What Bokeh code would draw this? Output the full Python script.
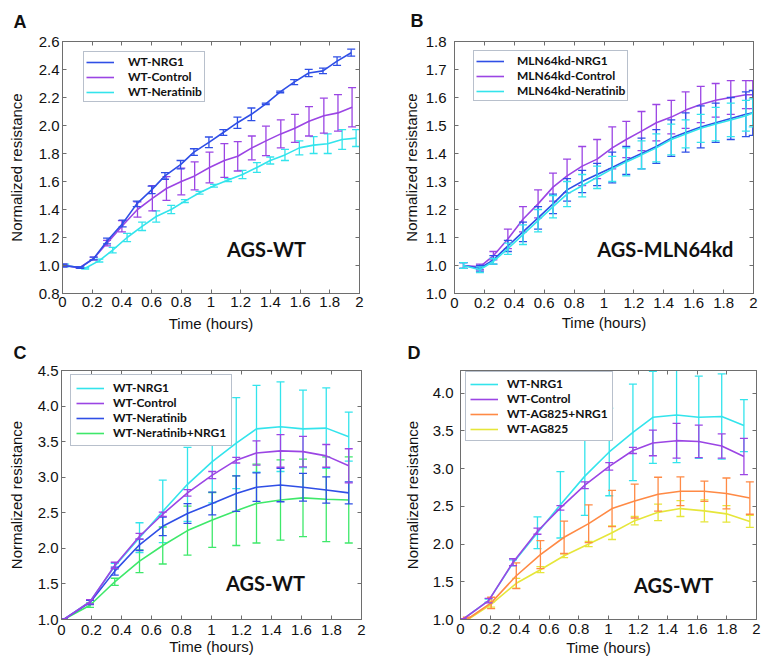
from bokeh.plotting import figure
from bokeh.models import (FixedTicker, LinearAxis, Legend, LegendItem, Label,
                          CustomJSTickFormatter)
from bokeh.layouts import column, row
from bokeh.embed import file_html
from bokeh.resources import INLINE

# ---------------- data ----------------
x_ticks = [0, 0.2, 0.4, 0.6, 0.8, 1.0, 1.2, 1.4, 1.6, 1.8, 2.0]
x_tick_labels = ["0", "0.2", "0.4", "0.6", "0.8", "1", "1.2", "1.4", "1.6", "1.8", "2"]

# Panel A (AGS-WT)
A_y_ticks = [0.8, 1.0, 1.2, 1.4, 1.6, 1.8, 2.0, 2.2, 2.4, 2.6]
A_y_labels = ["0.8", "1.0", "1.2", "1.4", "1.6", "1.8", "2.0", "2.2", "2.4", "2.6"]
tA_nrg1 = [0.007, 0.12, 0.21, 0.30, 0.405, 0.50, 0.60, 0.69, 0.795, 0.885, 0.986,
           1.083, 1.178, 1.272, 1.369, 1.466, 1.56, 1.658, 1.754, 1.849, 1.944]
A_nrg1 = [1.00, 0.985, 1.05, 1.175, 1.30, 1.44, 1.54, 1.64, 1.72, 1.81, 1.88,
          1.95, 2.02, 2.08, 2.155, 2.24, 2.31, 2.375, 2.39, 2.46, 2.52]
A_nrg1_err = [0.01, 0.005, 0.01, 0.02, 0.024, 0.02, 0.027, 0.024, 0.03, 0.024, 0.038,
              0.02, 0.04, 0.045, 0.005, 0.006, 0.018, 0.026, 0.02, 0.03, 0.025]
tA_ctrl = [0.007, 0.115, 0.21, 0.30, 0.40, 0.505, 0.605, 0.70, 0.80, 0.89, 0.99,
           1.09, 1.18, 1.275, 1.37, 1.47, 1.565, 1.66, 1.76, 1.855, 1.95]
A_ctrl = [1.00, 0.985, 1.05, 1.16, 1.28, 1.40, 1.48, 1.55, 1.60, 1.64, 1.70,
          1.75, 1.78, 1.84, 1.89, 1.94, 1.98, 2.03, 2.07, 2.09, 2.13]
A_ctrl_err = [0.01, 0.005, 0.01, 0.02, 0.04, 0.055, 0.09, 0.085, 0.095, 0.10, 0.11,
              0.12, 0.105, 0.085, 0.105, 0.10, 0.10, 0.105, 0.125, 0.13, 0.14]
tA_ner = [0.018, 0.153, 0.248, 0.338, 0.435, 0.536, 0.631, 0.732, 0.824, 0.923, 1.02,
          1.115, 1.212, 1.309, 1.399, 1.498, 1.595, 1.691, 1.786, 1.883, 1.977]
A_ner = [1.00, 0.98, 1.035, 1.11, 1.20, 1.28, 1.35, 1.40, 1.46, 1.52, 1.57,
         1.61, 1.65, 1.70, 1.75, 1.79, 1.84, 1.86, 1.87, 1.90, 1.91]
A_ner_err = [0.01, 0.005, 0.01, 0.02, 0.03, 0.03, 0.04, 0.03, 0.01, 0.01, 0.01,
             0.01, 0.03, 0.035, 0.025, 0.04, 0.05, 0.06, 0.07, 0.07, 0.06]

# Panel B (AGS-MLN64kd)
B_y_ticks = [0.9, 1.0, 1.1, 1.2, 1.3, 1.4, 1.5, 1.6, 1.7, 1.8]
B_y_labels = ["1.0", "1.0", "1.1", "1.2", "1.3", "1.4", "1.5", "1.6", "1.7", "1.8"]
tB = [0.06, 0.17, 0.26, 0.357, 0.458, 0.559, 0.659, 0.753, 0.854, 0.954, 1.055,
      1.149, 1.251, 1.35, 1.45, 1.546, 1.647, 1.747, 1.848, 1.949, 1.995]
B_nrg1 = [1.00, 0.99, 1.02, 1.07, 1.12, 1.17, 1.22, 1.27, 1.30, 1.325, 1.35,
          1.375, 1.40, 1.425, 1.455, 1.475, 1.495, 1.51, 1.525, 1.54, 1.545]
B_nrg1_err = [0.01, 0.01, 0.015, 0.02, 0.035, 0.04, 0.035, 0.04, 0.04, 0.04, 0.055,
              0.05, 0.055, 0.06, 0.065, 0.07, 0.075, 0.07, 0.075, 0.08, 0.08]
B_ctrl = [1.00, 0.995, 1.035, 1.095, 1.165, 1.22, 1.28, 1.32, 1.355, 1.38, 1.42,
          1.45, 1.48, 1.51, 1.53, 1.555, 1.575, 1.59, 1.60, 1.61, 1.61]
B_ctrl_err = [0.01, 0.01, 0.015, 0.035, 0.045, 0.05, 0.05, 0.06, 0.07, 0.07, 0.075,
              0.065, 0.07, 0.065, 0.06, 0.065, 0.065, 0.06, 0.06, 0.05, 0.05]
B_ner = [1.00, 0.985, 1.015, 1.06, 1.11, 1.16, 1.21, 1.255, 1.285, 1.315, 1.345,
         1.37, 1.395, 1.42, 1.45, 1.47, 1.49, 1.505, 1.52, 1.535, 1.545]
B_ner_err = [0.01, 0.01, 0.01, 0.02, 0.035, 0.04, 0.04, 0.045, 0.04, 0.04, 0.045,
             0.05, 0.05, 0.05, 0.055, 0.05, 0.05, 0.06, 0.06, 0.055, 0.05]

# Panel C (AGS-WT, 4 conditions)
C_y_ticks = [1.0, 1.5, 2.0, 2.5, 3.0, 3.5, 4.0, 4.5]
C_y_labels = ["1.0", "1.5", "2.0", "2.5", "3.0", "3.5", "4.0", "4.5"]
tC = [0.015, 0.19, 0.355, 0.52, 0.675, 0.84, 1.005, 1.165, 1.30, 1.46, 1.61, 1.765, 1.915]
C_nrg1 = [1.00, 1.25, 1.75, 2.15, 2.52, 2.90, 3.22, 3.48, 3.68, 3.71, 3.68, 3.69, 3.57]
C_nrg1_err = [0.01, 0.02, 0.04, 0.21, 0.44, 0.52, 0.58, 0.64, 0.61, 0.63, 0.545, 0.565, 0.345]
C_ctrl = [1.00, 1.25, 1.76, 2.17, 2.48, 2.78, 3.03, 3.24, 3.34, 3.37, 3.36, 3.30, 3.16]
C_ctrl_err = [0.01, 0.03, 0.045, 0.04, 0.03, 0.045, 0.05, 0.04, 0.17, 0.23, 0.215, 0.16, 0.24]
C_ner = [1.00, 1.24, 1.68, 2.05, 2.31, 2.49, 2.63, 2.77, 2.86, 2.89, 2.86, 2.82, 2.78]
C_ner_err = [0.01, 0.03, 0.055, 0.08, 0.13, 0.14, 0.16, 0.25, 0.20, 0.235, 0.195, 0.185, 0.155]
C_nn = [1.00, 1.20, 1.53, 1.82, 2.04, 2.25, 2.40, 2.53, 2.63, 2.68, 2.71, 2.69, 2.68]
C_nn_err = [0.01, 0.03, 0.05, 0.16, 0.26, 0.345, 0.385, 0.49, 0.555, 0.565, 0.545, 0.595, 0.605]

# Panel D (AGS-WT, AG825)
D_y_ticks = [1.0, 1.5, 2.0, 2.5, 3.0, 3.5, 4.0]
D_y_labels = ["1.0", "1.5", "2.0", "2.5", "3.0", "3.5", "4.0"]
tD = [0.043, 0.207, 0.377, 0.54, 0.70, 0.866, 1.024, 1.177, 1.335, 1.486, 1.648, 1.797, 1.955]
D_ag_nrg = [1.00, 1.22, 1.58, 1.86, 2.09, 2.27, 2.47, 2.57, 2.66, 2.70, 2.70, 2.67, 2.61]
D_ag_nrg_err = [0.03, 0.075, 0.17, 0.185, 0.215, 0.25, 0.24, 0.225, 0.225, 0.19, 0.135, 0.205, 0.215]
D_ag = [0.99, 1.20, 1.48, 1.66, 1.845, 2.00, 2.15, 2.31, 2.42, 2.47, 2.44, 2.40, 2.30]
D_ag_err = [0.01, 0.035, 0.065, 0.04, 0.025, 0.035, 0.09, 0.055, 0.11, 0.105, 0.145, 0.11, 0.08]

BLUE = "#2f4fe6"
PURPLE = "#9b45e4"
CYAN = "#33e4ec"
GREEN = "#3ee86a"
ORANGE = "#ff8a45"
YELLOW = "#e6e63a"
FRAME = "#6e6e6e"

TICK_FONT = "Liberation Sans"
TAG_FONT = "Lato"


def make_panel(width, height, borders, y_range, y_ticks, y_labels,
               ylab_gap, ytick_gap, xtick_gap, xlab_gap,
               series, draw_order, legend_loc, legend_pad, legend_gap,
               letter, letter_offset, letter_standoff, tag, tag_xy):
    left, right, top, bottom = borders
    p = figure(width=width, height=height, x_range=(0, 2), y_range=y_range,
               output_backend="svg", toolbar_location=None,
               min_border_left=left, min_border_right=right,
               min_border_top=top, min_border_bottom=bottom)
    p.grid.visible = False
    p.outline_line_color = FRAME
    p.outline_line_width = 1
    p.background_fill_color = "white"
    p.border_fill_color = "white"

    p.title.text = letter
    p.title.align = "left"
    p.title.vertical_align = "top"
    p.title.offset = letter_offset
    p.title.standoff = letter_standoff
    p.title.text_font = TICK_FONT
    p.title.text_font_style = "bold"
    p.title.text_font_size = "18px"
    p.title.text_color = "#111111"

    for ax, ticks, labels in ((p.xaxis[0], x_ticks, x_tick_labels),
                              (p.yaxis[0], y_ticks, y_labels)):
        ax.ticker = FixedTicker(ticks=ticks)
        ax.major_label_overrides = {t: l for t, l in zip(ticks, labels)}
        ax.major_tick_in = 4
        ax.major_tick_out = 0
        ax.minor_tick_line_color = None
        ax.axis_line_color = FRAME
        ax.major_tick_line_color = FRAME
        ax.major_label_text_font = TICK_FONT
        ax.major_label_text_font_size = "15px"
        ax.major_label_text_color = "#111111"
        ax.axis_label_text_font = TICK_FONT
        ax.axis_label_text_font_size = "15px"
        ax.axis_label_text_font_style = "normal"
        ax.axis_label_text_color = "#111111"
    p.xaxis.axis_label = "Time (hours)"
    p.yaxis.axis_label = "Normalized resistance"
    p.yaxis.major_label_standoff = ytick_gap
    p.yaxis.axis_label_standoff = ylab_gap
    p.xaxis.major_label_standoff = xtick_gap
    p.xaxis.axis_label_standoff = xlab_gap

    for place, ticks in (("above", x_ticks), ("right", y_ticks)):
        ax = LinearAxis(ticker=FixedTicker(ticks=ticks),
                        formatter=CustomJSTickFormatter(code="return ''"),
                        major_tick_in=4, major_tick_out=0,
                        minor_tick_line_color=None,
                        axis_line_color=FRAME, major_tick_line_color=FRAME,
                        major_label_standoff=0,
                        major_label_text_font_size="1px")
        p.add_layout(ax, place)

    renderers = {}
    for key in draw_order:
        label, t, v, e, color = series[key]
        lo = [a - b for a, b in zip(v, e)]
        hi = [a + b for a, b in zip(v, e)]
        p.segment(x0=t, y0=lo, x1=t, y1=hi, line_color=color, line_width=1.3)
        p.scatter(t, lo, marker="dash", size=8, line_color=color, line_width=1.3)
        p.scatter(t, hi, marker="dash", size=8, line_color=color, line_width=1.3)
        renderers[key] = p.line(t, v, line_color=color, line_width=1.6)

    items = [LegendItem(label=series[k][0], renderers=[renderers[k]])
             for k in range(len(series))]
    lg = Legend(items=items, location=legend_loc,
                label_text_font=TAG_FONT, label_text_font_style="bold",
                label_text_font_size="12px", label_text_color="#111111",
                glyph_width=28, glyph_height=14,
                label_height=14, label_standoff=legend_gap,
                padding=legend_pad, spacing=0, margin=0,
                border_line_color="#71819a", border_line_width=1,
                background_fill_color="white", background_fill_alpha=1)
    p.add_layout(lg, "center")

    p.add_layout(Label(x=tag_xy[0], y=tag_xy[1], text=tag,
                       text_font=TAG_FONT, text_font_style="bold",
                       text_font_size="20px", text_color="#111111",
                       text_align="center", text_baseline="middle"))
    return p


pA = make_panel(386, 334, (62, 27, 39, 41), (0.8, 2.6), A_y_ticks, A_y_labels,
                11, 3, 3, 5,
                [("WT-NRG1", tA_nrg1, A_nrg1, A_nrg1_err, BLUE),
                 ("WT-Control", tA_ctrl, A_ctrl, A_ctrl_err, PURPLE),
                 ("WT-Neratinib", tA_ner, A_ner, A_ner_err, CYAN)],
                [2, 1, 0], (21, 191), 2, 14,
                "A", -49, 15, "AGS-WT", (1.374, 1.12))

pB = make_panel(378, 334, (68, 11, 41, 41), (0.9, 1.8), B_y_ticks, B_y_labels,
                3, 8, 4, 3,
                [("MLN64kd-NRG1", tB, B_nrg1, B_nrg1_err, BLUE),
                 ("MLN64kd-Control", tB, B_ctrl, B_ctrl_err, PURPLE),
                 ("MLN64kd-Neratinib", tB, B_ner, B_ner_err, CYAN)],
                [1, 0, 2], (19, 192), 2, 13,
                "B", -44, 17, "AGS-MLN64kd", (1.41, 1.06))

pC = make_panel(386, 324, (61, 25, 35, 34), (1.0, 4.5), C_y_ticks, C_y_labels,
                10, 3, 5, 0,
                [("WT-NRG1", tC, C_nrg1, C_nrg1_err, CYAN),
                 ("WT-Control", tC, C_ctrl, C_ctrl_err, PURPLE),
                 ("WT-Neratinib", tC, C_ner, C_ner_err, BLUE),
                 ("WT-Neratinib+NRG1", tC, C_nn, C_nn_err, GREEN)],
                [0, 3, 2, 1], (9, 173), 5, 9,
                "C", -48, 11, "AGS-WT", (1.36, 1.51))

pD = make_panel(378, 324, (74, 8, 36, 36), (1.0, 4.3), D_y_ticks, D_y_labels,
                9, 7, 4, 2,
                [("WT-NRG1", tC, C_nrg1, C_nrg1_err, CYAN),
                 ("WT-Control", tC, C_ctrl, C_ctrl_err, PURPLE),
                 ("WT-AG825+NRG1", tD, D_ag_nrg, D_ag_nrg_err, ORANGE),
                 ("WT-AG825", tD, D_ag, D_ag_err, YELLOW)],
                [0, 3, 2, 1], (5, 178), 4, 9,
                "D", -53, 12, "AGS-WT", (1.44, 1.46))

layout = column(row(pA, pB), row(pC, pD))

with open("out.html", "w") as f:
    f.write(file_html(layout, INLINE))
